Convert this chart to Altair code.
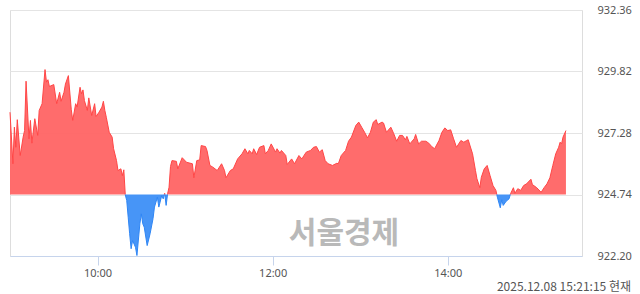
import altair as alt
import pandas as pd
import numpy as np

base = 924.74  # previous close

# minutes after 09:00
minutes = [0, 2, 3, 4, 5, 7, 9, 10, 11, 13, 14, 15, 17, 19, 20, 22, 24, 25, 26, 27,
           30, 32, 34, 35, 37, 38, 40, 42, 43, 45, 46, 48, 49, 50, 51, 53, 54, 56, 58, 59,
           61, 63, 64, 65, 66, 68, 70, 71, 73, 74, 76, 77, 78, 79, 80, 81, 82, 83, 84, 86,
           87, 89, 90, 91, 92, 94, 96, 98, 99, 101, 102, 104, 105, 106, 107, 108, 109, 110, 111, 114,
           115, 118, 121, 125, 126, 128, 130, 131, 134, 135, 137, 139, 142, 145, 147, 148, 151, 153, 156, 159,
           161, 163, 164, 166, 167, 169, 171, 174, 175, 177, 179, 182, 183, 185, 186, 189, 190, 193, 195, 198,
           200, 203, 206, 208, 210, 212, 214, 216, 218, 221, 224, 225, 227, 230, 232, 234, 237, 239, 241, 243,
           245, 247, 249, 251, 252, 255, 256, 258, 261, 263, 265, 267, 269, 271, 272, 274, 277, 278, 280, 282,
           285, 287, 289, 291, 294, 296, 298, 300, 302, 304, 306, 309, 311, 313, 314, 317, 319, 320, 322, 323,
           325, 327, 329, 331, 333, 334, 336, 337, 338, 340, 342, 343, 345, 346, 348, 350, 352, 354, 357, 358,
           361, 364, 366, 368, 370, 372, 374, 376, 377, 378, 379, 381]

values = [928.14, 926.01, 927.52, 926.69, 927.83, 926.35, 927.11, 927.38, 929.42, 927.04,
          927.80, 926.86, 927.87, 927.18, 928.21, 928.49, 929.90, 929.38, 929.48, 929.20,
          929.28, 928.49, 928.96, 928.59, 928.96, 929.30, 929.65, 928.24, 927.80, 928.49,
          928.35, 929.17, 928.90, 929.06, 928.62, 928.21, 928.73, 928.00, 928.49, 927.96,
          928.14, 928.35, 928.59, 928.21, 927.93, 927.31, 927.11, 926.63, 926.14, 925.73,
          925.80, 925.52, 925.76, 924.73, 924.49, 923.80, 923.12, 922.50, 922.84, 922.56,
          922.22, 923.53, 923.94, 923.53, 923.39, 922.63, 923.12, 923.74, 924.22, 924.63,
          924.22, 924.70, 924.56, 924.79, 924.29, 924.77, 925.04, 925.90, 926.14, 926.11,
          925.80, 926.26, 926.07, 926.01, 925.43, 926.14, 926.17, 926.76, 926.72, 926.56,
          925.94, 925.87, 925.73, 926.01, 925.73, 925.43, 925.73, 925.80, 926.21, 926.42,
          926.63, 926.42, 926.56, 926.42, 926.63, 926.39, 926.69, 926.76, 926.42, 926.56,
          926.83, 926.49, 926.63, 926.45, 926.56, 926.35, 925.98, 926.21, 926.01, 926.35,
          926.21, 926.49, 926.56, 926.69, 926.72, 926.49, 926.59, 926.14, 926.01, 925.94,
          926.03, 926.01, 926.35, 926.56, 926.94, 927.11, 927.59, 927.73, 927.52, 927.31,
          927.08, 927.31, 927.73, 927.83, 927.63, 927.73, 927.69, 927.31, 927.52, 927.25,
          926.94, 927.18, 927.18, 927.00, 927.14, 926.83, 927.04, 927.22, 926.83, 926.94,
          926.94, 926.86, 926.72, 926.63, 926.97, 927.31, 927.49, 927.38, 927.41, 927.04,
          926.69, 926.97, 926.90, 926.97, 927.00, 926.42, 925.73, 925.39, 925.02, 925.45,
          925.80, 925.94, 925.52, 925.11, 924.91, 924.63, 924.19, 924.52, 924.29, 924.46,
          924.56, 924.77, 925.02, 924.79, 924.98, 924.91, 925.11, 925.18, 925.37, 925.15,
          925.02, 924.83, 925.02, 925.18, 925.43, 925.94, 926.42, 926.69, 926.90, 926.83,
          927.11, 927.38]

y_ticks = [922.20, 924.74, 927.28, 929.82, 932.36]
x_tick_hours = [10, 12, 14]
stamp_text = "2025.12.08 15:21:15 현재"
watermark_text = "서울경제"

t0 = pd.Timestamp("2025-12-08 09:00:00")


def iso(m):
    return (t0 + pd.Timedelta(minutes=float(m))).strftime("%Y-%m-%dT%H:%M:%S.%f")[:-3]


# insert exact baseline crossings so the red and blue areas meet cleanly
ts, vs = [], []
for i in range(len(minutes)):
    if i > 0:
        a = values[i - 1] - base
        b = values[i] - base
        if a * b < 0:
            f = a / (a - b)
            ts.append(minutes[i - 1] + f * (minutes[i] - minutes[i - 1]))
            vs.append(base)
    ts.append(minutes[i])
    vs.append(values[i])

df = pd.DataFrame({"t": [iso(m) for m in ts], "v": vs})
df["up"] = np.maximum(df["v"], base)
df["dn"] = np.minimum(df["v"], base)
df["base"] = base

# outline segments (one per run above / below the baseline), crossings shared
rows = []
seg = 0
sign = None
for m, v in zip(ts, vs):
    s = 0 if v == base else (1 if v > base else -1)
    if s != 0 and sign is not None and s != sign:
        seg += 1
    if s != 0:
        sign = s
    rows.append({"t": iso(m), "v": v, "seg": seg, "side": sign})
    if s == 0 and rows:
        pass
# duplicate crossing points into the following segment
seg_rows = []
for i, r in enumerate(rows):
    seg_rows.append(r)
    if r["v"] == base and i + 1 < len(rows) and rows[i + 1]["seg"] != r["seg"]:
        seg_rows.append({"t": r["t"], "v": r["v"], "seg": rows[i + 1]["seg"], "side": rows[i + 1]["side"]})
seg_df = pd.DataFrame(seg_rows)
up_seg = seg_df[seg_df["side"] == 1]
dn_seg = seg_df[seg_df["side"] == -1]

FONT = "Noto Sans"

x_scale = alt.Scale(domain=[alt.DateTime(year=2025, month=12, date=8, hours=9),
                            alt.DateTime(year=2025, month=12, date=8, hours=15, minutes=32)])
y_scale = alt.Scale(domain=[922.20, 932.36], zero=False, nice=False)

x_axis = alt.Axis(
    values=[alt.DateTime(year=2025, month=12, date=8, hours=h) for h in x_tick_hours],
    format="%H:%M", title=None, grid=False,
    domainColor="#c6d4ec", tickColor="#c6d4ec", tickSize=9,
    labelColor="#555555", labelFontSize=11, labelFont=FONT, labelPadding=2,
)
y_axis = alt.Axis(
    values=y_ticks, format=".2f", orient="right", title=None,
    grid=True, gridColor="#e4e4e4", domain=False, ticks=False,
    labelColor="#555555", labelFontSize=11, labelFont=FONT, labelPadding=15,
)

basech = alt.Chart(df)

up_area = basech.mark_area(color="#ff6464", opacity=0.95).encode(
    x=alt.X("t:T", scale=x_scale, axis=x_axis),
    y=alt.Y("up:Q", scale=y_scale, axis=y_axis),
    y2="base:Q",
)
dn_area = basech.mark_area(color="#3d8ff7", opacity=0.95).encode(
    x=alt.X("t:T", scale=x_scale),
    y=alt.Y("dn:Q", scale=y_scale),
    y2="base:Q",
)
up_line = alt.Chart(up_seg).mark_line(color="#ff4646", strokeWidth=1).encode(
    x=alt.X("t:T", scale=x_scale),
    y=alt.Y("v:Q", scale=y_scale),
    detail="seg:N",
)
dn_line = alt.Chart(dn_seg).mark_line(color="#2f86f5", strokeWidth=1).encode(
    x=alt.X("t:T", scale=x_scale),
    y=alt.Y("v:Q", scale=y_scale),
    detail="seg:N",
)

wm = alt.Chart(pd.DataFrame({"s": [watermark_text]})).mark_text(
    font="Noto Sans CJK KR", fontSize=30, fontWeight="bold", color="#b9b9b9",
    align="center", baseline="middle",
).encode(text="s:N", x=alt.value(334), y=alt.value(224))

stamp = alt.Chart(pd.DataFrame({"s": [stamp_text]})).mark_text(
    font="Noto Sans CJK KR", fontSize=12, color="#555555",
    align="right", baseline="middle",
).encode(text="s:N", x=alt.value(621), y=alt.value(277))

chart = alt.layer(up_area, dn_area, up_line, dn_line, wm, stamp).properties(
    width=572, height=246,
    autosize=alt.AutoSizeParams(type="none"),
    padding={"left": 10, "top": 10, "right": 58, "bottom": 38},
).configure_view(stroke=None).configure(background="white")

chart.save("out.html", embed_options={"renderer": "svg", "actions": False})
